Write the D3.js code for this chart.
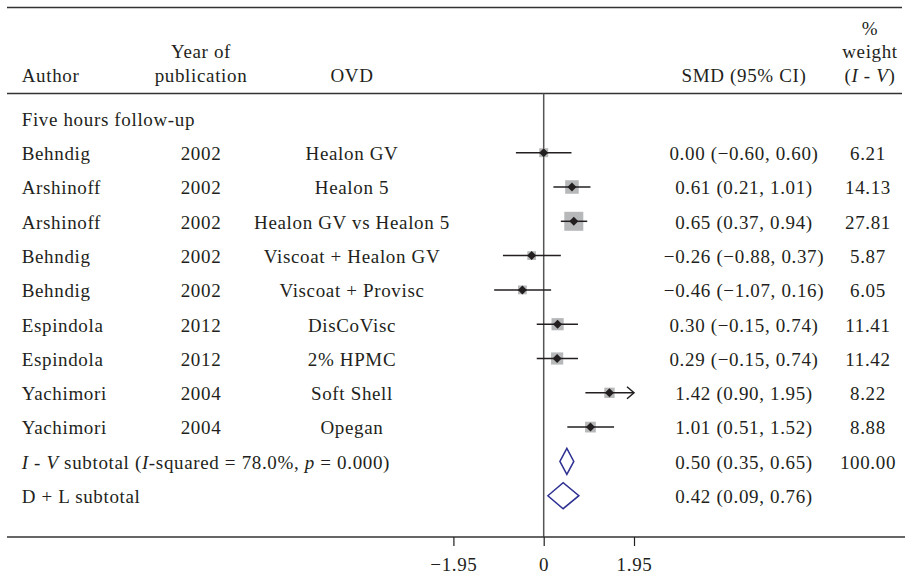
<!DOCTYPE html>
<html>
<head>
<meta charset="utf-8">
<script src="https://cdn.jsdelivr.net/npm/d3@7"></script>
<style>
  body { margin: 0; background: #fff; }
  svg text { font-family: "Liberation Serif", "DejaVu Serif", serif; font-size: 19px; letter-spacing: 0.65px; fill: #231f20; }
</style>
</head>
<body>
<div id="forest"></div>
<script>
// study rows
const authors = ["Behndig", "Arshinoff", "Arshinoff", "Behndig", "Behndig", "Espindola", "Espindola", "Yachimori", "Yachimori"]
const years = ["2002", "2002", "2002", "2002", "2002", "2012", "2012", "2004", "2004"]
const ovds = ["Healon GV", "Healon 5", "Healon GV vs Healon 5", "Viscoat + Healon GV", "Viscoat + Provisc", "DisCoVisc", "2% HPMC", "Soft Shell", "Opegan"]
const smd = [0.00, 0.61, 0.65, -0.26, -0.46, 0.30, 0.29, 1.42, 1.01]
const lower = [-0.60, 0.21, 0.37, -0.88, -1.07, -0.15, -0.15, 0.90, 0.51]
const upper = [0.60, 1.01, 0.94, 0.37, 0.16, 0.74, 0.74, 1.95, 1.52]
const weights = ["6.21", "14.13", "27.81", "5.87", "6.05", "11.41", "11.42", "8.22", "8.88"]

// pooled estimates
const pooledNames = ["I-V", "D+L"]
const pooledSmd = [0.50, 0.42]
const pooledLower = [0.35, 0.09]
const pooledUpper = [0.65, 0.76]
const pooledWeight = ["100.00", ""]

const axisTicks = [-1.95, 0, 1.95]

const W = 905, H = 578
const svg = d3.select("#forest").append("svg")
  .attr("width", W).attr("height", H)

const x = d3.scaleLinear().domain([-1.95, 1.95]).range([453.4, 634])
// row 0 = group title, 1..9 studies, 10..11 pooled
const y = d3.scaleLinear().domain([0, 11]).range([118.4, 495.7])
const axisY = 537
const base = 7.3 // text baseline below row centre

const fmt = v => v.toFixed(2).replace("-", "\u2212")
const ciText = (m, l, u) => fmt(m) + " (" + fmt(l) + ", " + fmt(u) + ")"

const col = {author: 21.7, year: 201, ovd: 352, smd: 744, weight: 868}

// horizontal rules
svg.append("line").attr("x1", 7).attr("x2", 902).attr("y1", 7.5).attr("y2", 7.5)
  .attr("stroke", "#333").attr("stroke-width", 1.5)
svg.append("line").attr("x1", 7).attr("x2", 902).attr("y1", 93.5).attr("y2", 93.5)
  .attr("stroke", "#333").attr("stroke-width", 1.5)

// headers
const hdr = svg.append("g")
hdr.append("text").attr("x", col.author).attr("y", 82).text("Author")
hdr.append("text").attr("x", col.year).attr("y", 58).attr("text-anchor", "middle").text("Year of")
hdr.append("text").attr("x", col.year).attr("y", 82).attr("text-anchor", "middle").text("publication")
hdr.append("text").attr("x", col.ovd).attr("y", 82).attr("text-anchor", "middle").text("OVD")
hdr.append("text").attr("x", col.smd).attr("y", 82).attr("text-anchor", "middle").text("SMD (95% CI)")
hdr.append("text").attr("x", 870).attr("y", 35).attr("text-anchor", "middle").text("%")
hdr.append("text").attr("x", 870).attr("y", 58).attr("text-anchor", "middle").text("weight")
const iv = hdr.append("text").attr("x", 870).attr("y", 82).attr("text-anchor", "middle")
iv.append("tspan").text("(")
iv.append("tspan").attr("font-style", "italic").text("I")
iv.append("tspan").text(" - ")
iv.append("tspan").attr("font-style", "italic").text("V")
iv.append("tspan").text(")")

// zero line
svg.append("line").attr("x1", x(0)).attr("x2", x(0)).attr("y1", 93.5).attr("y2", axisY)
  .attr("stroke", "#555").attr("stroke-width", 1.5)

svg.append("text").attr("x", col.author).attr("y", y(0) + base).text("Five hours follow-up")

// study rows
const rows = svg.append("g").selectAll("g").data(authors.map((a, i) => i)).join("g")
rows.append("text").attr("x", col.author).attr("y", i => y(i + 1) + base).text(i => authors[i])
rows.append("text").attr("x", col.year).attr("y", i => y(i + 1) + base).attr("text-anchor", "middle").text(i => years[i])
rows.append("text").attr("x", col.ovd).attr("y", i => y(i + 1) + base).attr("text-anchor", "middle").text(i => ovds[i])
rows.append("text").attr("x", col.smd).attr("y", i => y(i + 1) + base).attr("text-anchor", "middle")
  .text(i => ciText(smd[i], lower[i], upper[i]))
rows.append("text").attr("x", col.weight).attr("y", i => y(i + 1) + base).attr("text-anchor", "middle").text(i => weights[i])

// weight boxes (area ~ weight)
const side = d3.scaleSqrt().domain([0, 27.81]).range([0, 19])
rows.append("rect")
  .attr("x", i => x(smd[i]) - side(+weights[i]) / 2)
  .attr("y", i => y(i + 1) - side(+weights[i]) / 2)
  .attr("width", i => side(+weights[i]))
  .attr("height", i => side(+weights[i]))
  .attr("fill", "#b7b8ba")

const xmax = x.domain()[1]
rows.append("line")
  .attr("x1", i => x(Math.max(lower[i], x.domain()[0])))
  .attr("x2", i => x(Math.min(upper[i], xmax)))
  .attr("y1", i => y(i + 1)).attr("y2", i => y(i + 1))
  .attr("stroke", "#231f20").attr("stroke-width", 1.5)

// arrow where the interval runs off the scale
rows.filter(i => upper[i] >= xmax).append("path")
  .attr("d", i => {
    const tx = x(xmax), ty = y(i + 1)
    return `M${tx - 7},${ty - 6} L${tx},${ty} L${tx - 7},${ty + 6}`
  })
  .attr("fill", "none").attr("stroke", "#231f20").attr("stroke-width", 1.5)

rows.append("path")
  .attr("d", i => {
    const cx = x(smd[i]), cy = y(i + 1), r = 4.5
    return `M${cx},${cy - r} L${cx + r},${cy} L${cx},${cy + r} L${cx - r},${cy} Z`
  })
  .attr("fill", "#231f20")

// pooled rows
const ivLabel = svg.append("text").attr("x", col.author).attr("y", y(10) + base)
ivLabel.append("tspan").attr("font-style", "italic").text("I")
ivLabel.append("tspan").text(" - ")
ivLabel.append("tspan").attr("font-style", "italic").text("V")
ivLabel.append("tspan").text(" subtotal (")
ivLabel.append("tspan").attr("font-style", "italic").text("I")
ivLabel.append("tspan").text("-squared = 78.0%, ")
ivLabel.append("tspan").attr("font-style", "italic").text("p")
ivLabel.append("tspan").text(" = 0.000)")
svg.append("text").attr("x", col.author).attr("y", y(11) + base).text("D + L subtotal")

pooledNames.forEach((n, k) => {
  const cy = y(10 + k), h = 13
  svg.append("path")
    .attr("d", `M${x(pooledLower[k])},${cy} L${x(pooledSmd[k])},${cy - h} L${x(pooledUpper[k])},${cy} L${x(pooledSmd[k])},${cy + h} Z`)
    .attr("fill", "none").attr("stroke", "#2e3192").attr("stroke-width", 1.5)
  svg.append("text").attr("x", col.smd).attr("y", cy + base).attr("text-anchor", "middle")
    .text(ciText(pooledSmd[k], pooledLower[k], pooledUpper[k]))
  svg.append("text").attr("x", col.weight).attr("y", cy + base).attr("text-anchor", "middle")
    .text(pooledWeight[k])
})

// x axis
svg.append("line").attr("x1", 7).attr("x2", 905).attr("y1", axisY).attr("y2", axisY)
  .attr("stroke", "#333").attr("stroke-width", 1.5)
const ax = svg.append("g").attr("transform", `translate(0,${axisY})`)
  .call(d3.axisBottom(x).tickValues(axisTicks).tickSize(9).tickPadding(12)
    .tickFormat(d => d === 0 ? "0" : fmt(d)))
ax.select(".domain").remove()
ax.selectAll(".tick line").attr("stroke", "#231f20").attr("stroke-width", 1.2)
ax.selectAll(".tick text").attr("font-size", 19).attr("font-family", "Liberation Serif, serif").attr("fill", "#231f20")
</script>
</body>
</html>
